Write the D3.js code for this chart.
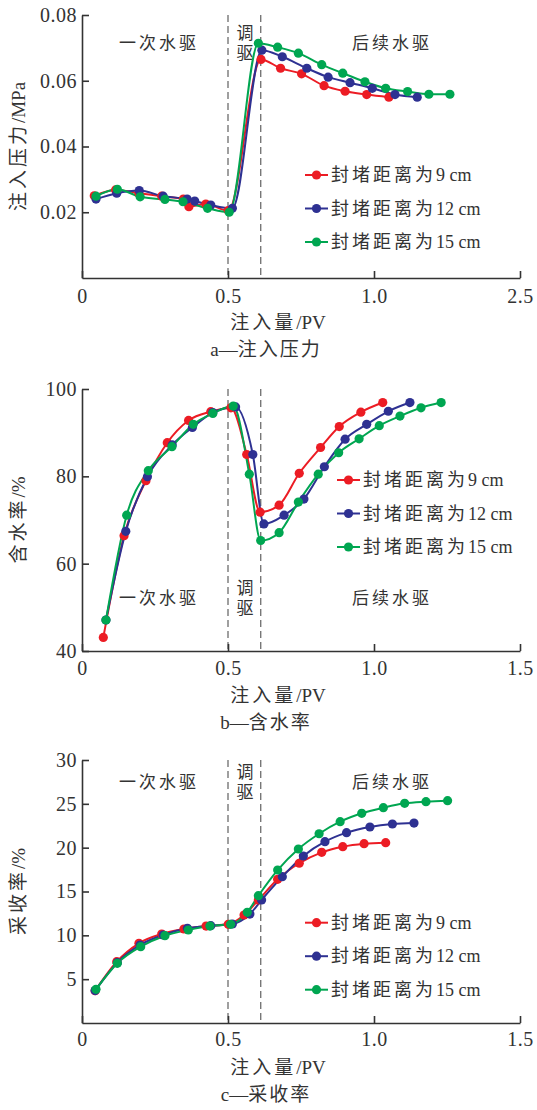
<!DOCTYPE html>
<html>
<head>
<meta charset="utf-8">
<script src="https://cdn.jsdelivr.net/npm/d3@7"></script>
<style>
  body { margin: 0; background: #fff; }
  svg text { font-family: "Liberation Serif", "Times New Roman", Times, "Noto Sans CJK SC", serif !important; fill: #333; }
</style>
</head>
<body>
<script>

// Series names and colours (legend order)
var seriesZh = "封堵距离为";
var seriesUnits = ["9 cm", "12 cm", "15 cm"];
var seriesColors = ["#ec1c24", "#2e3192", "#00a651"];

// x axis (injection volume, PV)
var xTicks = [0, 0.5, 1.0, 1.5];
var xLabelsA = ["0", "0.5", "1.0", "2.5"];
var xLabelsB = ["0", "0.5", "1.0", "1.5"];
var stageBounds = [0.5, 0.612];

// a — injection pressure (MPa), [PV, value]
var pressure9 = [[0.042,0.0250],[0.115,0.0268],[0.195,0.0258],[0.273,0.0249],[0.347,0.0240],[0.366,0.0217],[0.424,0.0225],[0.501,0.0205],
                 [0.613,0.0665],[0.680,0.0638],[0.752,0.0621],[0.829,0.0585],[0.901,0.0568],[0.975,0.0558],[1.051,0.0550]];
var pressure12 = [[0.048,0.0240],[0.119,0.0258],[0.196,0.0266],[0.278,0.0249],[0.360,0.0240],[0.386,0.0234],[0.441,0.0222],[0.515,0.0212],
                  [0.616,0.0693],[0.686,0.0673],[0.770,0.0638],[0.843,0.0611],[0.918,0.0594],[0.994,0.0577],[1.072,0.0558],[1.148,0.0550]];
var pressure15 = [[0.048,0.0249],[0.121,0.0270],[0.199,0.0247],[0.284,0.0239],[0.346,0.0232],[0.430,0.0212],[0.504,0.0200],
                  [0.604,0.0714],[0.670,0.0702],[0.741,0.0684],[0.821,0.0649],[0.893,0.0623],[0.969,0.0597],[1.040,0.0577],[1.115,0.0567],[1.188,0.0559],[1.260,0.0559]];
var pressureTicks = [0.02, 0.04, 0.06, 0.08];

// b — water cut (%)
var waterCut9 = [[0.073,43.1],[0.144,66.4],[0.219,79.0],[0.292,87.7],[0.365,92.8],[0.441,94.8],[0.510,95.7],[0.564,85.0],
                 [0.610,71.8],[0.675,73.4],[0.744,80.7],[0.817,86.6],[0.881,91.4],[0.955,94.7],[1.030,96.9]];
var waterCut12 = [[0.082,47.1],[0.150,67.4],[0.224,79.9],[0.309,87.2],[0.378,91.2],[0.448,94.6],[0.526,95.9],[0.585,85.0],
                  [0.623,69.1],[0.692,71.1],[0.760,74.8],[0.830,82.2],[0.901,88.5],[0.975,91.9],[1.049,94.9],[1.123,96.9]];
var waterCut15 = [[0.082,47.1],[0.153,71.1],[0.227,81.3],[0.308,86.8],[0.381,91.9],[0.448,94.4],[0.518,96.1],[0.573,80.5],
                  [0.612,65.3],[0.675,67.1],[0.741,74.1],[0.809,80.5],[0.879,85.4],[0.949,88.6],[1.018,91.6],[1.089,93.8],[1.161,95.7],[1.230,96.9]];
var waterCutTicks = [40, 60, 80, 100];

// c — recovery (%)
var recovery9 = [[0.045,3.68],[0.119,6.99],[0.195,9.09],[0.273,10.15],[0.349,10.72],[0.425,11.06],[0.501,11.26],[0.555,12.32],
                 [0.604,14.03],[0.670,16.39],[0.744,18.22],[0.821,19.47],[0.893,20.11],[0.966,20.45],[1.040,20.57]];
var recovery12 = [[0.045,3.70],[0.121,6.88],[0.199,8.90],[0.278,10.04],[0.361,10.80],[0.441,11.10],[0.515,11.29],[0.575,12.43],
                  [0.615,14.03],[0.686,16.69],[0.758,19.05],[0.832,20.68],[0.906,21.71],[0.986,22.36],[1.063,22.70],[1.137,22.81]];
var recovery15 = [[0.048,3.84],[0.121,6.81],[0.201,8.71],[0.284,9.96],[0.364,10.61],[0.438,11.06],[0.509,11.26],[0.566,12.63],
                  [0.604,14.52],[0.670,17.45],[0.741,19.85],[0.812,21.59],[0.884,22.96],[0.958,23.92],[1.032,24.56],[1.105,25.06],[1.178,25.25],[1.252,25.36]];
var recoveryTicks = [5, 10, 15, 20, 25, 30];


var svg = d3.select("body").append("svg")
    .attr("width", 537)
    .attr("height", 1110);

var left = 82, right = 520;

// Chinese part spaced out, latin part tight
var mixedText = function(sel, zh, latin, zhSpacing) {
    sel.append("tspan").style("letter-spacing", zhSpacing + "px").text(zh);
    sel.append("tspan").style("letter-spacing", "0px").text(latin);
}

var drawPanel = function(p) {

    var x = d3.scaleLinear().domain([0, 1.5]).range([left, right]);
    var y = d3.scaleLinear().domain(p.yDomain).range([p.bottom, p.top]);

    var g = svg.append("g");

    // Stage boundaries (dashed)
    stageBounds.forEach(function(v) {
        g.append("line")
            .attr("x1", x(v)).attr("x2", x(v))
            .attr("y1", p.top).attr("y2", p.bottom)
            .attr("stroke", "#777")
            .attr("stroke-width", 1.4)
            .attr("stroke-dasharray", "7,4");
    });

    // Axes
    var xAxis = g.append("g")
        .attr("transform", "translate(0," + p.bottom + ")")
        .call(d3.axisBottom(x).tickValues(xTicks)
            .tickFormat(function(d, i) { return p.xLabels[i]; })
            .tickSizeInner(-7).tickSizeOuter(0).tickPadding(p.xPad));

    var yAxis = g.append("g")
        .attr("transform", "translate(" + left + ",0)")
        .call(d3.axisLeft(y).tickValues(p.yTicks)
            .tickFormat(p.yFormat)
            .tickSizeInner(-7).tickSizeOuter(0).tickPadding(5));

    [xAxis, yAxis].forEach(function(a) {
        a.attr("font-family", null).attr("font-size", null);
        a.select(".domain").attr("stroke", "#333").attr("stroke-width", 1.6);
        a.selectAll(".tick line").attr("stroke", "#333").attr("stroke-width", 1.6);
        a.selectAll(".tick text")
            .attr("fill", "#333")
            .style("font-size", "20px")
            .style("letter-spacing", "0.5px");
    });

    // Axis titles
    var xt = g.append("text")
        .attr("x", 278).attr("y", p.bottom + 51)
        .attr("text-anchor", "middle")
        .style("font-size", "19px");
    mixedText(xt, "注入量", "/PV", 3);

    var cap = g.append("text")
        .attr("x", 266).attr("y", p.bottom + 78)
        .attr("text-anchor", "middle")
        .style("font-size", "19px");
    mixedText(cap, p.captionLetter + "—", "", 0);
    cap.append("tspan").style("letter-spacing", "2px").text(p.captionZh);

    var yt = g.append("text")
        .attr("transform", "translate(25," + ((p.top + p.bottom) / 2) + ") rotate(-90)")
        .attr("text-anchor", "middle")
        .style("font-size", "19px");
    mixedText(yt, p.yTitleZh, p.yTitleUnit, 3);

    // Stage labels
    var stage = g.append("g").style("font-size", "17px").style("letter-spacing", "3px");
    stage.append("text").attr("x", 159).attr("y", p.stageY + 6).attr("text-anchor", "middle").text("一次水驱");
    stage.append("text").attr("x", 392).attr("y", p.stageY + 6).attr("text-anchor", "middle").text("后续水驱");
    stage.append("text").attr("x", 245).attr("y", p.stageY - 4).attr("text-anchor", "middle").style("letter-spacing", "0px").text("调");
    stage.append("text").attr("x", 245).attr("y", p.stageY + 16).attr("text-anchor", "middle").style("letter-spacing", "0px").text("驱");

    // Series
    var line = d3.line()
        .x(function(d) { return x(d[0]); })
        .y(function(d) { return y(d[1]); })
        .curve(d3.curveMonotoneX);

    p.series.forEach(function(s, i) {
        g.append("path")
            .datum(s)
            .attr("d", line)
            .attr("fill", "none")
            .attr("stroke", seriesColors[i])
            .attr("stroke-width", 2)
            .attr("stroke-linejoin", "round");
    });
    p.series.forEach(function(s, i) {
        g.selectAll(null)
            .data(s)
            .enter().append("circle")
            .attr("cx", function(d) { return x(d[0]); })
            .attr("cy", function(d) { return y(d[1]); })
            .attr("r", 4.6)
            .attr("fill", seriesColors[i]);
    });

    // Legend
    var leg = g.append("g");
    seriesUnits.forEach(function(unit, i) {
        var ly = p.legendY + i * 33.5;
        leg.append("line")
            .attr("x1", p.legendX).attr("x2", p.legendX + 23)
            .attr("y1", ly).attr("y2", ly)
            .attr("stroke", seriesColors[i]).attr("stroke-width", 2);
        leg.append("circle")
            .attr("cx", p.legendX + 11.5).attr("cy", ly).attr("r", 4.6)
            .attr("fill", seriesColors[i]);
        var t = leg.append("text")
            .attr("x", p.legendX + 26).attr("y", ly + 6)
            .style("font-size", "18px");
        mixedText(t, seriesZh, unit, 3);
    });
}

drawPanel({
    top: 15, bottom: 278, yDomain: [0, 0.08], yTicks: pressureTicks,
    yFormat: d3.format(".2f"), xLabels: xLabelsA, xPad: 11,
    yTitleZh: "注入压力", yTitleUnit: "/MPa", captionLetter: "a", captionZh: "注入压力",
    stageY: 43, legendX: 305, legendY: 175,
    series: [pressure9, pressure12, pressure15]
});

drawPanel({
    top: 389, bottom: 651, yDomain: [40, 100], yTicks: waterCutTicks,
    yFormat: d3.format("d"), xLabels: xLabelsB, xPad: 10,
    yTitleZh: "含水率", yTitleUnit: "/%", captionLetter: "b", captionZh: "含水率",
    stageY: 598, legendX: 337, legendY: 480,
    series: [waterCut9, waterCut12, waterCut15]
});

drawPanel({
    top: 760, bottom: 1023, yDomain: [0, 30], yTicks: recoveryTicks,
    yFormat: d3.format("d"), xLabels: xLabelsB, xPad: 9,
    yTitleZh: "采收率", yTitleUnit: "/%", captionLetter: "c", captionZh: "采收率",
    stageY: 782, legendX: 305, legendY: 922.7,
    series: [recovery9, recovery12, recovery15]
});

</script>
</body>
</html>
